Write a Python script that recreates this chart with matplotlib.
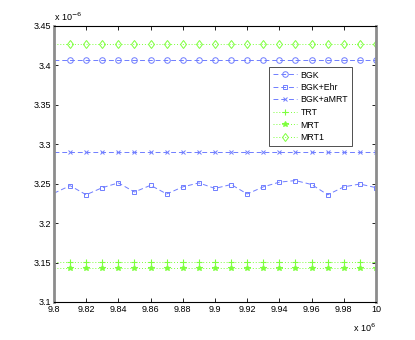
import matplotlib
matplotlib.use("Agg")
import matplotlib.pyplot as plt
import numpy as np

# x in units of 1e6, y in units of 1e-6
x = [9.80, 9.81, 9.82, 9.83, 9.84, 9.85, 9.86, 9.87, 9.88, 9.89, 9.90,
     9.91, 9.92, 9.93, 9.94, 9.95, 9.96, 9.97, 9.98, 9.99, 10.00]
bgk = [3.4063] * 21
bgk_ehr = [3.238, 3.2475, 3.236, 3.245, 3.251, 3.2395, 3.248, 3.237, 3.246, 3.251, 3.244,
           3.249, 3.237, 3.246, 3.252, 3.254, 3.249, 3.236, 3.246, 3.2496, 3.245]
bgk_amrt = [3.2902] * 21
trt = [3.1508] * 21
mrt = [3.1431] * 21
mrt1 = [3.4275] * 21
labels = ["BGK", "BGK+Ehr", "BGK+aMRT", "TRT", "MRT", "MRT1"]
yticks = [3.1, 3.15, 3.2, 3.25, 3.3, 3.35, 3.4, 3.45]
xticks = [9.8, 9.82, 9.84, 9.86, 9.88, 9.9, 9.92, 9.94, 9.96, 9.98, 10]

blue = "#6f7dff"
green = "#7dff3c"

plt.rcParams['font.family'] = ['Liberation Sans', 'DejaVu Sans']
fig = plt.figure(figsize=(4.15, 3.4), dpi=100)
ax = fig.add_axes([54/415, 38/340, 322/415, 276/340])

me = slice(1, None)
ax.plot(x, bgk, color=blue, ls=(0, (5, 3)), lw=0.7, marker='o', ms=4, mfc='none', mew=0.7, markevery=me, label=labels[0])
ax.plot(x, bgk_ehr, color=blue, ls=(0, (5, 3)), lw=0.7, marker='s', ms=3.5, mfc='none', mew=0.7, markevery=me, label=labels[1])
ax.plot(x, bgk_amrt, color=blue, ls=(0, (5, 3)), lw=0.7, marker='x', ms=3, mew=0.7, markevery=me, label=labels[2])
ax.plot(x, trt, color=green, ls=(0, (1, 2)), lw=0.7, marker='+', ms=5, mew=0.8, markevery=me, label=labels[3])
ax.plot(x, mrt, color=green, ls=(0, (1, 2)), lw=0.7, marker='*', ms=4, mew=0.8, markevery=me, label=labels[4])
ax.plot(x, mrt1, color=green, ls=(0, (1, 2)), lw=0.7, marker='d', ms=4.5, mfc='none', mew=0.7, markevery=me, label=labels[5])

ax.set_xlim(9.8, 10.0)
ax.set_ylim(3.1, 3.45)
ax.set_xticks(xticks)
ax.set_xticklabels(["9.8", "9.82", "9.84", "9.86", "9.88", "9.9", "9.92", "9.94", "9.96", "9.98", "10"])
ax.set_yticks(yticks)
ax.set_yticklabels(["3.1", "3.15", "3.2", "3.25", "3.3", "3.35", "3.4", "3.45"])
ax.tick_params(direction='in', length=3, width=0.6, labelsize=6.5, top=True, right=True, pad=2)
for s in ['top', 'bottom']:
    ax.spines[s].set_linewidth(0.8)
    ax.spines[s].set_color('black')
for s in ['left', 'right']:
    ax.spines[s].set_linewidth(2)
    ax.spines[s].set_color('#8c8c8c')

ax.text(0.0, 1.01, r"x 10$^{-6}$", transform=ax.transAxes, fontsize=6.5, ha='left', va='bottom')
ax.text(1.0, -0.07, r"x 10$^{6}$", transform=ax.transAxes, fontsize=6.5, ha='right', va='top')

leg = ax.legend(loc='upper left', bbox_to_anchor=((269-54)/322, (302-67)/276), fontsize=6.3,
                frameon=True, fancybox=False, edgecolor='black', borderpad=0.4, numpoints=1,
                handlelength=2.8, labelspacing=0.4, handletextpad=0.4, borderaxespad=0)
leg.get_frame().set_linewidth(0.6)
for h in leg.legend_handles:
    h.set_markevery([1])

fig.savefig("out.png", dpi=100)
